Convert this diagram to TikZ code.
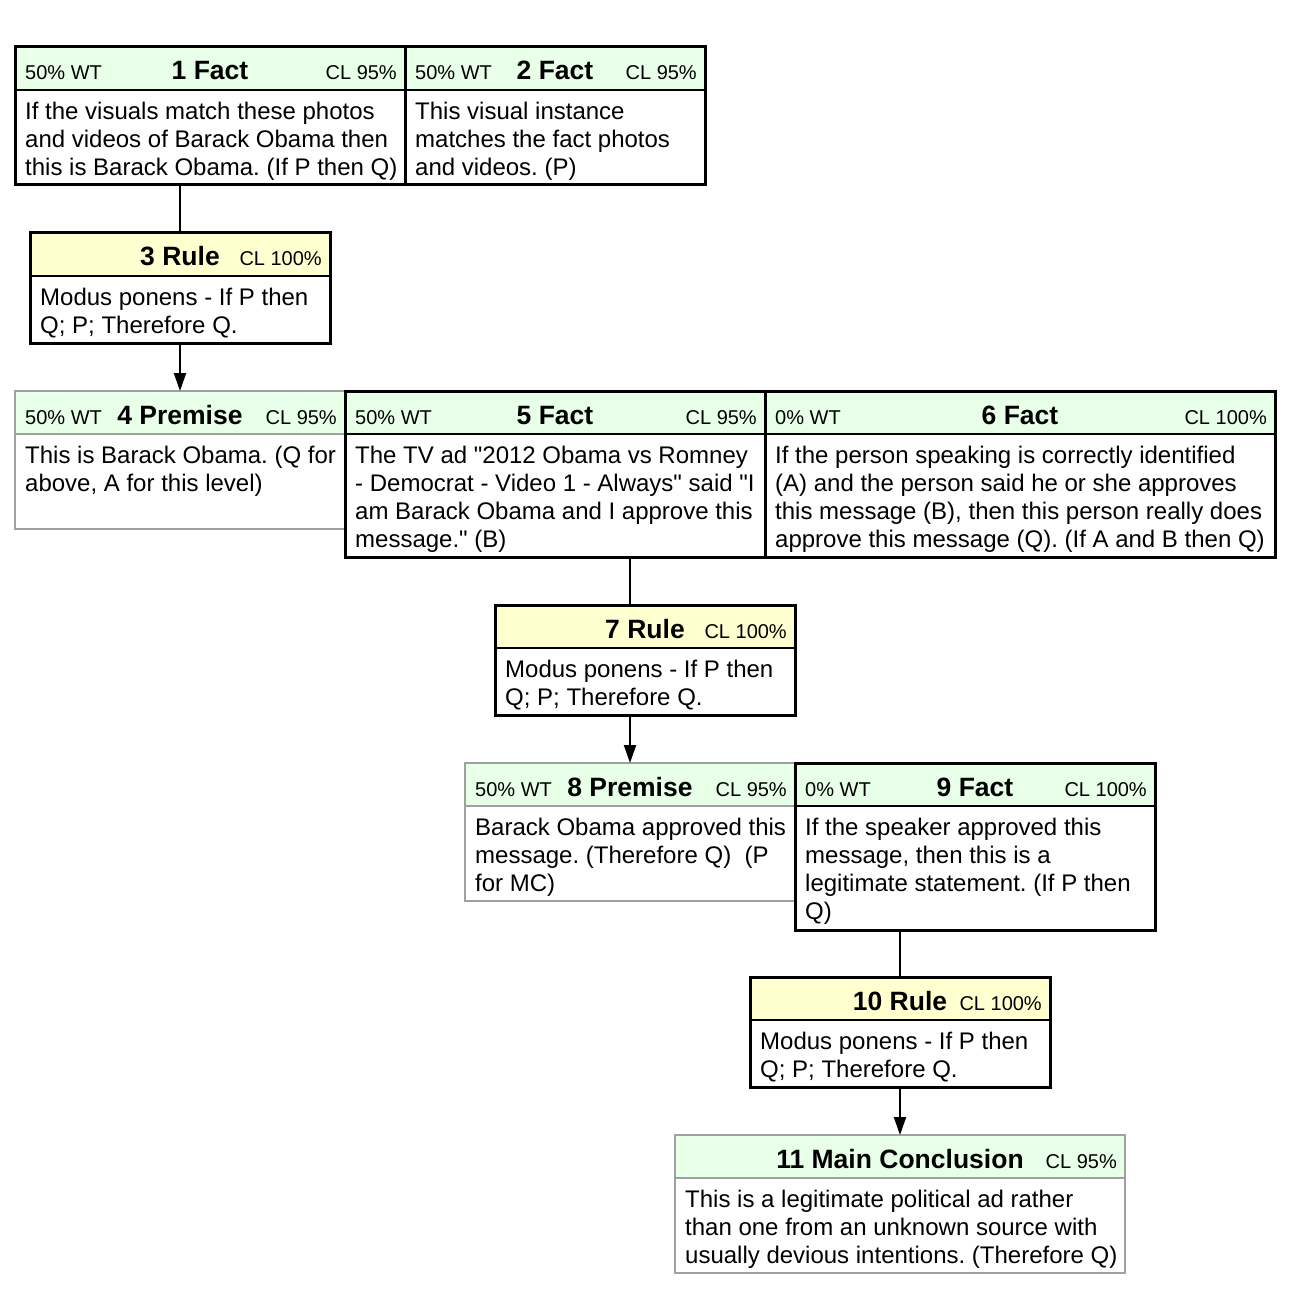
\documentclass[tikz,border=0pt]{standalone}
\usepackage{fontspec}
\setmainfont{Liberation Sans}[Ligatures=TeXOff]
\usetikzlibrary{arrows.meta,calc}
\frenchspacing
\definecolor{hdrgreen}{RGB}{232,255,232}
\definecolor{hdryellow}{RGB}{255,255,208}
\definecolor{premgray}{RGB}{160,160,160}
\tikzset{
  cardbase/.style={rectangle, inner sep=0pt, outer sep=0pt, anchor=north west, fill=white},
  factcard/.style={cardbase, draw=black, line width=3pt,
    path picture={\fill[hdrgreen] (path picture bounding box.north west) rectangle ([yshift=-43pt]path picture bounding box.north east);
      \draw[black, line width=2pt] ([yshift=-43pt]path picture bounding box.north west) -- ([yshift=-43pt]path picture bounding box.north east);}},
  rulecard/.style={cardbase, draw=black, line width=3pt,
    path picture={\fill[hdryellow] (path picture bounding box.north west) rectangle ([yshift=-43pt]path picture bounding box.north east);
      \draw[black, line width=2pt] ([yshift=-43pt]path picture bounding box.north west) -- ([yshift=-43pt]path picture bounding box.north east);}},
  premcard/.style={cardbase, draw=premgray, line width=2pt,
    path picture={\fill[hdrgreen] (path picture bounding box.north west) rectangle ([yshift=-43pt]path picture bounding box.north east);
      \draw[premgray, line width=2pt] ([yshift=-43pt]path picture bounding box.north west) -- ([yshift=-43pt]path picture bounding box.north east);}},
  lab/.style={inner sep=0pt, font=\fontsize{20}{24}\selectfont},
  ttl/.style={inner sep=0pt, font=\fontsize{26.5}{30}\selectfont\bfseries},
  bodyt/.style={inner sep=0pt, align=left, anchor=north west, font=\fontsize{24}{28}\selectfont},
  conn/.style={line width=2pt, black},
  arr/.style={line width=2pt, black, -{Triangle[length=18pt,width=12pt]}},
}
\newcommand\hdrfull[4]{%
  \node[lab, anchor=base west] (#1l) at ([xshift=10pt,yshift=-33pt]#1.north west) {#2};
  \node[ttl, anchor=base] (#1t) at ([yshift=-33pt]#1.north) {#3};
  \node[lab, anchor=base east] (#1r) at ([xshift=-8pt,yshift=-33pt]#1.north east) {#4};}
\newcommand\hdrright[3]{%
  \node[ttl, anchor=base] (#1t) at ([yshift=-33pt]#1.north) {#2};
  \node[lab, anchor=base east] (#1r) at ([xshift=-8pt,yshift=-33pt]#1.north east) {#3};}
\newcommand\cardtext[2]{%
  \node[bodyt] (#1b) at ([xshift=10pt,yshift=-52.5pt]#1.north west) {\rule{0pt}{20pt}#2};}
\begin{document}
\begin{tikzpicture}[x=1pt,y=-1pt]
\useasboundingbox[fill=white] (0,0) rectangle (1290,1289);

% row 1
\node[factcard, minimum width=390pt, minimum height=138pt] (b1) at (15,47) {};
\hdrfull{b1}{50\% WT}{1 Fact}{CL 95\%}
\cardtext{b1}{If the visuals match these photos\\and videos of Barack Obama then\\this is Barack Obama. (If P then Q)}

\node[factcard, minimum width=300pt, minimum height=138pt] (b2) at (405,47) {};
\hdrfull{b2}{50\% WT}{2 Fact}{CL 95\%}
\cardtext{b2}{This visual instance\\matches the fact photos\\and videos. (P)}

% rule 3
\node[rulecard, minimum width=300pt, minimum height=110pt] (b3) at (30,233) {};
\hdrright{b3}{3 Rule}{CL 100\%}
\cardtext{b3}{Modus ponens - If P then\\Q; P; Therefore Q.}

% row 2
\node[premcard, minimum width=330pt, minimum height=138pt] (b4) at (15,391) {};
\hdrfull{b4}{50\% WT}{4 Premise}{CL 95\%}
\cardtext{b4}{This is Barack Obama. (Q for\\above, A for this level)}

\node[factcard, minimum width=420pt, minimum height=166pt] (b5) at (345,391) {};
\hdrfull{b5}{50\% WT}{5 Fact}{CL 95\%}
\cardtext{b5}{The TV ad "2012 Obama vs Romney\\- Democrat - Video 1 - Always" said "I\\am Barack Obama and I approve this\\message." (B)}

\node[factcard, minimum width=510pt, minimum height=166pt] (b6) at (765,391) {};
\hdrfull{b6}{0\% WT}{6 Fact}{CL 100\%}
\cardtext{b6}{If the person speaking is correctly identified\\(A) and the person said he or she approves\\this message (B), then this person really does\\approve this message (Q). (If A and B then Q)}

% rule 7
\node[rulecard, minimum width=300pt, minimum height=110pt] (b7) at (495,605) {};
\hdrright{b7}{7 Rule}{CL 100\%}
\cardtext{b7}{Modus ponens - If P then\\Q; P; Therefore Q.}

% row 3
\node[premcard, minimum width=330pt, minimum height=138pt] (b8) at (465,763) {};
\hdrfull{b8}{50\% WT}{8 Premise}{CL 95\%}
\cardtext{b8}{Barack Obama approved this\\message. (Therefore Q)\ \ (P\\for MC)}

\node[factcard, minimum width=360pt, minimum height=167pt] (b9) at (795,763) {};
\hdrfull{b9}{0\% WT}{9 Fact}{CL 100\%}
\cardtext{b9}{If the speaker approved this\\message, then this is a\\legitimate statement. (If P then\\Q)}

% rule 10
\node[rulecard, minimum width=300pt, minimum height=110pt] (b10) at (750,977) {};
\hdrright{b10}{10 Rule}{CL 100\%}
\cardtext{b10}{Modus ponens - If P then\\Q; P; Therefore Q.}

% conclusion 11
\node[premcard, minimum width=450pt, minimum height=138pt] (b11) at (675,1135) {};
\hdrright{b11}{11 Main Conclusion}{CL 95\%}
\cardtext{b11}{This is a legitimate political ad rather\\than one from an unknown source with\\usually devious intentions. (Therefore Q)}

% connectors
\draw[conn] (b3.north) -- (b3.north |- b1.south);
\draw[arr] (b3.south) -- (b4.north);
\draw[conn] (b8.north |- b5.south) -- (b8.north |- b7.north);
\draw[arr] (b8.north |- b7.south) -- (b8.north);
\draw[conn] (b10.north |- b9.south) -- (b10.north);
\draw[arr] (b10.south) -- (b11.north);
\end{tikzpicture}
\end{document}
